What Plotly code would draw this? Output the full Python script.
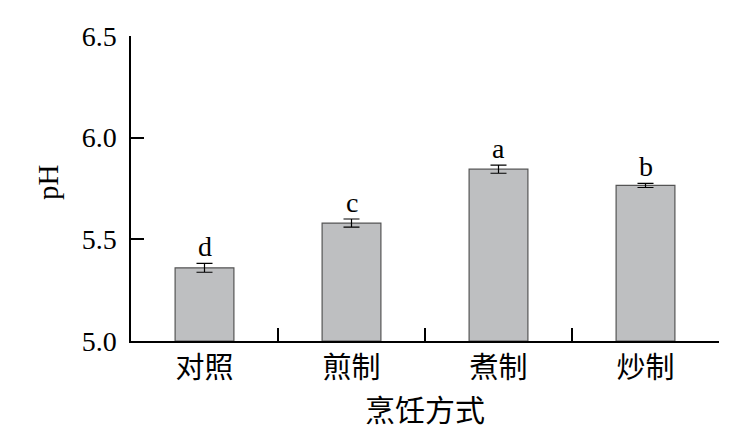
import plotly.graph_objects as go

categories = ["对照", "煎制", "煮制", "炒制"]
ph_values = [5.36, 5.58, 5.845, 5.765]
ph_errors = [0.022, 0.02, 0.02, 0.01]
sig_letters = ["d", "c", "a", "b"]
y_ticks = [5.0, 5.5, 6.0, 6.5]
y_tick_labels = ["5.0", "5.5", "6.0", "6.5"]

SERIF = "Liberation Serif, Times New Roman, serif"
CJK = "Noto Sans CJK SC"

fig = go.Figure()
fig.add_trace(go.Bar(
    x=categories, y=[v - 5.0 for v in ph_values], base=5.0,
    width=0.4,
    marker=dict(color="#bebfc1", line=dict(color="#555555", width=1.2)),
    error_y=dict(type="data", array=ph_errors, color="black", thickness=1.2, width=8),
    showlegend=False,
))
for c, v, e, s in zip(categories, ph_values, ph_errors, sig_letters):
    fig.add_annotation(x=c, y=v + e, text=s, showarrow=False, yanchor="bottom",
                       yshift=-1, font=dict(family=SERIF, size=28, color="black"))

fig.add_annotation(xref="paper", yref="paper", x=-0.14, y=0.52, text="pH", textangle=-90,
                   showarrow=False, xanchor="center", yanchor="middle",
                   font=dict(family=SERIF, size=29, color="black"))

fig.update_layout(
    width=746, height=439,
    margin=dict(l=123, r=35, t=28, b=106),
    plot_bgcolor="white", paper_bgcolor="white",
    font=dict(family=SERIF, color="black"),
)
fig.update_xaxes(
    type="category", tickson="boundaries", ticks="inside", ticklen=13, tickwidth=1.5,
    tickcolor="black", showline=True, linecolor="black", linewidth=1.5,
    showgrid=False, zeroline=False, automargin=False,
    tickfont=dict(family=CJK, size=29, color="black"),
    title=dict(text="烹饪方式", font=dict(family=CJK, size=30, color="black"), standoff=14),
)
fig.update_yaxes(
    range=[5.0, 6.5], tickvals=y_ticks, ticktext=y_tick_labels,
    ticks="inside", ticklen=13, tickwidth=1.5, tickcolor="black",
    showline=True, linecolor="black", linewidth=1.5,
    showgrid=False, zeroline=False, automargin=False,
    tickfont=dict(family=SERIF, size=28, color="black"),
    ticklabelstandoff=7,
)
fig.write_html("out.html")
